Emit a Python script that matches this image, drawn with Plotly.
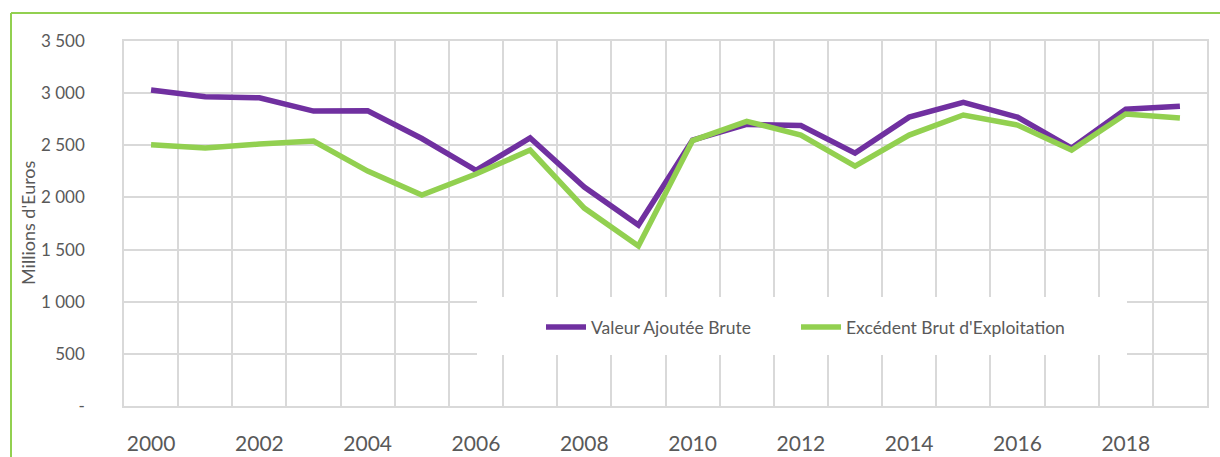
import plotly.graph_objects as go

years = list(range(2000, 2020))
vab = [3030, 2965, 2955, 2828, 2830, 2565, 2260, 2570, 2100, 1735,
       2550, 2700, 2690, 2425, 2770, 2912, 2770, 2473, 2845, 2875]
ebe = [2505, 2473, 2512, 2540, 2253, 2023, 2224, 2454, 1898, 1534,
       2545, 2730, 2598, 2301, 2598, 2790, 2694, 2454, 2800, 2761]
name_vab = "Valeur Ajoutée Brute"
name_ebe = "Excédent Brut d'Exploitation"
y_tickvals = [0, 500, 1000, 1500, 2000, 2500, 3000, 3500]
y_ticktext = ["-", "500", "1 000", "1 500", "2 000", "2 500", "3 000", "3 500"]
x_tickvals = list(range(2000, 2020, 2))
y_title = "Millions d'Euros"

PURPLE = "#7030A0"
GREEN = "#92D050"
GRID = "#D9D9D9"
TEXT = "#595959"
FONT = "Lato"

W, H = 1220, 457
L, R, T, B = 124, 13, 41, 51
pw, ph = W - L - R, H - T - B

def px_x(p):
    return (p - L) / pw

def px_y(p):
    return (H - B - p) / ph

fig = go.Figure()
fig.add_trace(go.Scatter(x=years, y=vab, name=name_vab, mode="lines",
                         line=dict(color=PURPLE, width=5.5), legend="legend"))
fig.add_trace(go.Scatter(x=years, y=ebe, name=name_ebe, mode="lines",
                         line=dict(color=GREEN, width=5.5), legend="legend2"))

# white legend box covering gridlines
fig.add_shape(type="rect", xref="paper", yref="paper",
              x0=px_x(477), x1=px_x(1127), y0=px_y(355), y1=px_y(297),
              fillcolor="white", line=dict(width=0), layer="above")
# green border (top and left)
fig.add_shape(type="line", xref="paper", yref="paper",
              x0=px_x(11), x1=px_x(1222), y0=px_y(13), y1=px_y(13),
              line=dict(color=GREEN, width=2))
fig.add_shape(type="line", xref="paper", yref="paper",
              x0=px_x(11), x1=px_x(11), y0=px_y(13), y1=px_y(460),
              line=dict(color=GREEN, width=2))

fig.add_annotation(text=y_title, textangle=-90, xref="paper", yref="paper",
                   x=px_x(28), y=px_y(223), showarrow=False,
                   xanchor="center", yanchor="middle",
                   font=dict(family=FONT, size=18, color=TEXT))

legend_common = dict(orientation="h", xanchor="left", yanchor="middle",
                     bgcolor="rgba(0,0,0,0)",
                     font=dict(family=FONT, size=17.5, color=TEXT), itemwidth=40)

fig.update_layout(
    width=W, height=H,
    margin=dict(l=L, r=R, t=T, b=B, autoexpand=False),
    paper_bgcolor="white", plot_bgcolor="white",
    font=dict(family=FONT, color=TEXT),
    showlegend=True,
    legend=dict(x=px_x(541), y=px_y(327), **legend_common),
    legend2=dict(x=px_x(796), y=px_y(327), **legend_common),
    xaxis=dict(range=[1999.5, 2019.5], tickvals=x_tickvals,
               showgrid=False, zeroline=False,
               showline=True, linecolor=GRID, linewidth=1.5, mirror=True,
               ticks="", ticklabelstandoff=18,
               tickfont=dict(family=FONT, size=21, color=TEXT),
               minor=dict(tick0=1999.5, dtick=1, showgrid=True,
                          gridcolor=GRID, gridwidth=1.5, ticks="")),
    yaxis=dict(range=[0, 3500], tickvals=y_tickvals, ticktext=y_ticktext,
               showgrid=True, gridcolor=GRID, gridwidth=1.5, zeroline=False,
               showline=True, linecolor=GRID, linewidth=1.5, mirror=True,
               ticks="", ticklabelstandoff=34,
               tickfont=dict(family=FONT, size=17, color=TEXT)),
)

fig.write_html("out.html", config={"displayModeBar": False},
               post_script="document.body.style.margin='0';document.body.style.padding='0';")
